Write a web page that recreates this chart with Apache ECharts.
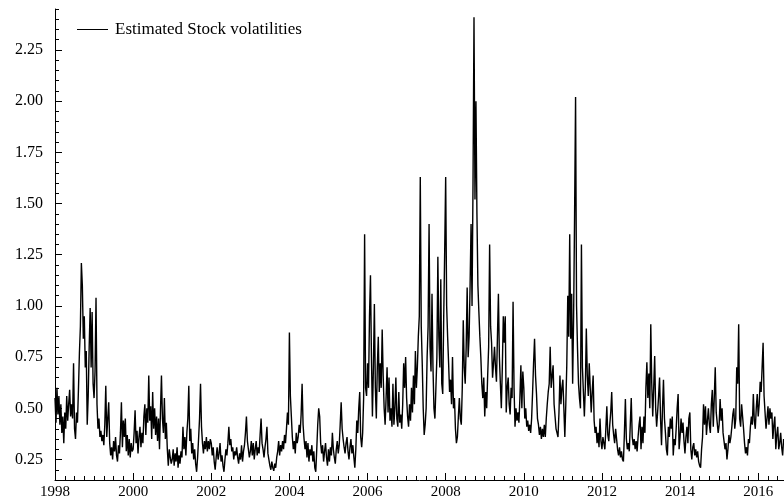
<!DOCTYPE html>
<html>
<head>
<meta charset="utf-8">
<script src="https://cdn.jsdelivr.net/npm/echarts@6/dist/echarts.min.js"></script>
<style>
  html, body { margin: 0; padding: 0; background: #fff; }
  #chart { width: 784px; height: 504px; }
</style>
</head>
<body>
<div id="chart"></div>
<script>
// Estimated stock volatilities, sampled every 1/40 year from the start of 1998.
const startYear = 1998;
const stepYear = 1 / 40;

const v1998 = [0.55,0.43,0.6,0.47,0.56,0.42,0.52,0.38,0.46,0.33,0.48,0.4,0.56,0.44,0.52,0.59,0.46,0.52,0.45,0.72,
               0.4,0.35,0.48,0.43,0.59,0.77,0.9,1.21,1.1,0.84,0.95,0.7,0.78,0.42,0.56,0.8,0.99,0.7,0.97,0.62];
const v1999 = [0.55,0.68,1.04,0.52,0.4,0.45,0.36,0.39,0.34,0.37,0.32,0.42,0.61,0.36,0.45,0.53,0.33,0.27,0.31,0.25,
               0.34,0.29,0.36,0.27,0.24,0.32,0.28,0.38,0.53,0.31,0.44,0.36,0.45,0.29,0.37,0.27,0.35,0.26,0.33,0.29];
const v2000 = [0.3,0.38,0.49,0.33,0.39,0.28,0.36,0.41,0.31,0.38,0.33,0.46,0.52,0.37,0.5,0.43,0.66,0.44,0.51,0.35,
               0.58,0.4,0.5,0.37,0.46,0.34,0.45,0.3,0.49,0.66,0.45,0.38,0.55,0.35,0.43,0.3,0.22,0.3,0.26,0.23];
const v2001 = [0.25,0.3,0.22,0.28,0.24,0.31,0.21,0.27,0.23,0.29,0.26,0.41,0.3,0.36,0.27,0.38,0.45,0.61,0.34,0.4,
               0.28,0.33,0.25,0.3,0.23,0.19,0.26,0.35,0.45,0.62,0.41,0.33,0.28,0.34,0.3,0.36,0.29,0.34,0.3,0.35];
const v2002 = [0.33,0.27,0.31,0.24,0.2,0.26,0.31,0.25,0.28,0.33,0.24,0.27,0.22,0.19,0.25,0.3,0.27,0.33,0.41,0.32,
               0.35,0.29,0.31,0.25,0.29,0.27,0.31,0.26,0.23,0.28,0.25,0.32,0.24,0.29,0.32,0.38,0.46,0.34,0.3,0.26];
const v2003 = [0.29,0.34,0.27,0.33,0.25,0.3,0.34,0.27,0.31,0.28,0.37,0.45,0.33,0.3,0.26,0.31,0.35,0.41,0.28,0.25,
               0.22,0.2,0.24,0.21,0.195,0.23,0.21,0.26,0.29,0.34,0.27,0.32,0.29,0.34,0.3,0.37,0.33,0.4,0.48,0.42];
const v2004 = [0.87,0.56,0.46,0.36,0.3,0.34,0.28,0.38,0.33,0.36,0.42,0.38,0.47,0.62,0.42,0.35,0.3,0.34,0.26,0.33,
               0.24,0.3,0.27,0.32,0.24,0.29,0.21,0.19,0.3,0.42,0.5,0.46,0.33,0.28,0.32,0.24,0.29,0.33,0.26,0.22];
const v2005 = [0.3,0.24,0.31,0.27,0.38,0.3,0.26,0.23,0.3,0.34,0.28,0.32,0.42,0.53,0.4,0.35,0.31,0.28,0.33,0.36,
               0.29,0.25,0.31,0.35,0.28,0.32,0.26,0.21,0.3,0.44,0.38,0.5,0.58,0.36,0.31,0.38,0.55,1.35,0.6,0.56];
const v2006 = [0.72,0.6,0.95,1.15,0.75,0.46,0.7,1.01,0.6,0.45,0.7,0.85,0.58,0.72,0.6,0.885,0.66,0.5,0.42,0.55,
               0.7,0.48,0.65,0.44,0.5,0.41,0.62,0.42,0.5,0.65,0.45,0.41,0.58,0.43,0.47,0.4,0.52,0.72,0.6,0.75];
const v2007 = [0.55,0.46,0.41,0.52,0.44,0.6,0.48,0.66,0.52,0.78,0.6,0.7,0.85,0.95,1.63,0.9,0.72,0.5,0.37,0.42,
               0.5,0.75,0.9,1.4,0.8,0.68,1.06,0.7,0.5,0.45,0.6,0.75,1.24,0.85,0.7,1.13,0.62,0.57,0.95,1.27];
const v2008 = [1.63,1.0,0.85,0.72,0.58,0.64,0.52,0.75,0.5,0.55,0.4,0.33,0.36,0.46,0.55,0.45,0.42,0.6,0.93,0.7,
               0.62,0.8,1.09,0.75,0.85,1.1,1.4,1.0,1.6,2.41,1.52,2.0,1.45,1.1,0.97,0.85,0.75,0.62,0.55,0.65];
const v2009 = [0.46,0.58,0.5,0.66,0.8,1.3,0.9,0.82,0.65,0.72,0.8,0.7,0.63,0.85,1.06,0.75,0.62,0.5,0.7,0.95,
               0.82,0.95,0.48,0.6,0.65,0.52,0.47,0.6,0.55,1.02,0.6,0.41,0.5,0.44,0.48,0.43,0.55,0.71,0.5,0.68];
const v2010 = [0.6,0.45,0.5,0.41,0.44,0.39,0.42,0.38,0.45,0.58,0.72,0.84,0.66,0.57,0.45,0.42,0.37,0.41,0.35,0.4,
               0.36,0.42,0.36,0.45,0.52,0.58,0.62,0.8,0.6,0.66,0.71,0.52,0.46,0.4,0.38,0.36,0.48,0.66,0.52,0.6];
const v2011 = [0.64,0.5,0.36,0.52,0.71,1.05,0.85,1.35,0.84,1.06,0.62,0.95,1.45,2.02,1.0,0.79,0.62,0.55,0.5,1.3,
               0.7,0.58,0.46,0.6,0.89,0.66,0.56,0.72,0.6,0.48,0.58,0.66,0.44,0.38,0.41,0.33,0.38,0.31,0.45,0.34];
const v2012 = [0.3,0.36,0.33,0.3,0.4,0.51,0.37,0.34,0.42,0.48,0.58,0.42,0.37,0.33,0.4,0.35,0.3,0.27,0.31,0.26,
               0.29,0.25,0.24,0.38,0.545,0.35,0.3,0.33,0.29,0.42,0.55,0.36,0.32,0.35,0.3,0.34,0.29,0.36,0.42,0.46];
const v2013 = [0.3,0.41,0.33,0.46,0.38,0.6,0.725,0.55,0.67,0.5,0.91,0.62,0.46,0.6,0.755,0.5,0.41,0.48,0.56,0.65,
               0.45,0.32,0.5,0.64,0.45,0.38,0.3,0.27,0.41,0.36,0.45,0.4,0.46,0.27,0.35,0.32,0.4,0.5,0.57,0.3];
const v2014 = [0.36,0.45,0.38,0.43,0.34,0.28,0.36,0.41,0.33,0.45,0.48,0.3,0.25,0.31,0.33,0.27,0.3,0.26,0.29,0.24,
               0.22,0.21,0.3,0.36,0.52,0.42,0.51,0.37,0.44,0.5,0.42,0.38,0.52,0.59,0.41,0.55,0.7,0.48,0.43,0.38];
const v2015 = [0.42,0.545,0.44,0.5,0.38,0.34,0.3,0.33,0.25,0.3,0.37,0.33,0.36,0.41,0.47,0.5,0.4,0.45,0.7,0.62,
               0.91,0.45,0.41,0.52,0.46,0.4,0.33,0.28,0.31,0.27,0.35,0.33,0.41,0.46,0.42,0.57,0.44,0.4,0.5,0.57];
const v2016 = [0.46,0.52,0.63,0.58,0.7,0.82,0.56,0.48,0.4,0.45,0.51,0.42,0.5,0.45,0.48,0.35,0.42,0.46,0.3,0.37,
               0.41,0.3,0.33,0.38,0.31,0.27,0.35];

const volatility = [].concat(v1998, v1999, v2000, v2001, v2002, v2003, v2004, v2005, v2006,
  v2007, v2008, v2009, v2010, v2011, v2012, v2013, v2014, v2015, v2016);

// Axis labels and tick positions
const yearLabels = [1998, 2000, 2002, 2004, 2006, 2008, 2010, 2012, 2014, 2016];
const valueLabels = [0.25, 0.5, 0.75, 1.0, 1.25, 1.5, 1.75, 2.0, 2.25];
const xMin = 1998, xMax = 2016.66;
const yMin = 0.15, yMax = 2.45;

const quarterTicks = [];
for (let q = 0; xMin + q * 0.25 <= xMax; q++) quarterTicks.push(xMin + q * 0.25);
const minorValueTicks = [];
for (let t = 3; t * 0.05 <= yMax + 1e-9; t++) minorValueTicks.push(+(t * 0.05).toFixed(2));

const seriesData = volatility.map((v, i) => [startYear + i * stepYear, v]);

const FONT = '"Liberation Serif", "Times New Roman", serif';
const axisColor = '#000';

const chart = echarts.init(document.getElementById('chart'), null, { renderer: 'canvas' });
chart.setOption({
  animation: false,
  backgroundColor: '#fff',
  grid: { left: 55, right: 0, top: 9, bottom: 24, containLabel: false },
  legend: {
    left: 72, top: 16,
    icon: 'rect', itemWidth: 31, itemHeight: 1,
    textStyle: { fontFamily: FONT, fontSize: 17, color: '#000', padding: [0, 0, 0, 2] },
    data: ['Estimated Stock volatilities']
  },
  xAxis: [
    {
      type: 'value', min: xMin, max: xMax, position: 'bottom',
      axisLine: { show: true, lineStyle: { color: axisColor, width: 1 } },
      axisTick: { show: true, inside: true, length: 7, customValues: yearLabels, lineStyle: { color: axisColor } },
      axisLabel: { customValues: yearLabels, fontFamily: FONT, fontSize: 15, color: '#000', margin: 5,
        formatter: v => String(Math.round(v)) },
      splitLine: { show: false }
    },
    {
      type: 'value', min: xMin, max: xMax, position: 'bottom',
      axisLine: { show: false },
      axisTick: { show: true, inside: true, length: 4, customValues: quarterTicks, lineStyle: { color: axisColor } },
      axisLabel: { show: false },
      splitLine: { show: false }
    }
  ],
  yAxis: [
    {
      type: 'value', min: yMin, max: yMax, position: 'left',
      axisLine: { show: true, lineStyle: { color: axisColor, width: 1 } },
      axisTick: { show: true, inside: true, length: 7, customValues: valueLabels, lineStyle: { color: axisColor } },
      axisLabel: { customValues: valueLabels, fontFamily: FONT, fontSize: 16, color: '#000', margin: 12,
        formatter: v => v.toFixed(2) },
      splitLine: { show: false }
    },
    {
      type: 'value', min: yMin, max: yMax, position: 'left',
      axisLine: { show: false },
      axisTick: { show: true, inside: true, length: 4, customValues: minorValueTicks, lineStyle: { color: axisColor } },
      axisLabel: { show: false },
      splitLine: { show: false }
    }
  ],
  series: [{
    name: 'Estimated Stock volatilities',
    type: 'line',
    xAxisIndex: 0, yAxisIndex: 0,
    data: seriesData,
    showSymbol: false, symbol: 'none',
    sampling: null,
    lineStyle: { color: '#000', width: 1.4 },
    itemStyle: { color: '#000' }
  }]
});
</script>
</body>
</html>
